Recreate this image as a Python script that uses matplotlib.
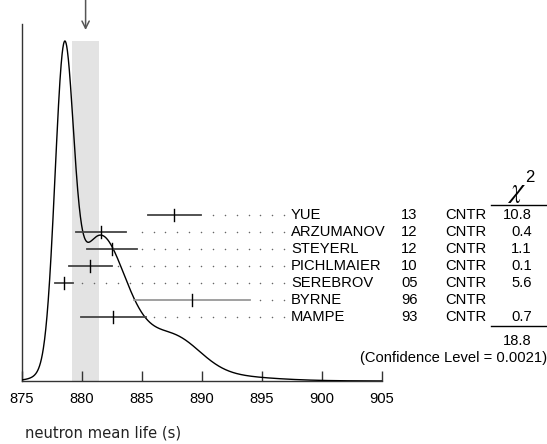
import numpy as np
import matplotlib.pyplot as plt

# measurements, top row first
authors = ['YUE', 'ARZUMANOV', 'STEYERL', 'PICHLMAIER', 'SEREBROV', 'BYRNE', 'MAMPE']
years = ['13', '12', '12', '10', '05', '96', '93']
tecn = ['CNTR', 'CNTR', 'CNTR', 'CNTR', 'CNTR', 'CNTR', 'CNTR']
values = [887.7, 881.6, 882.5, 880.7, 878.5, 889.2, 882.6]
errors = [2.2, 2.06, 2.05, 1.77, 0.76, 4.84, 2.7]
chi2 = ['10.8', '0.4', '1.1', '0.1', '5.6', '', '0.7']
used = [True, True, True, True, True, False, True]
chi2_total = '18.8'
conf_level = '0.0021'
avg = 880.3
avg_err = 1.1

W, H = 547, 444
fig = plt.figure(figsize=(W / 100, H / 100), dpi=100)
ax = fig.add_axes([22 / W, 63 / H, 360 / W, 357 / H])

def fx(px):
    # figure pixel column -> axes fraction
    return (px - 22) / 360.0

def fy(py):
    # figure pixel row (from top) -> axes fraction
    return (381 - py) / 357.0

# ideogram: one gaussian per measurement, area ~ 1/sigma
x = np.linspace(875, 905, 1500)
curve = np.zeros_like(x)
for v, e in zip(values, errors):
    curve += np.exp(-0.5 * ((x - v) / e) ** 2) / e ** 2
peak = curve.max()

ax.fill_between([avg - avg_err, avg + avg_err], 0, peak, color='#e3e3e3', lw=0, zorder=0)
ax.plot(x, curve, color='black', lw=1.0, zorder=3)

ax.set_xlim(875, 905)
ax.set_ylim(0, peak * 357 / 340)

ax.annotate('', xy=(avg, fy(30)), xycoords=('data', 'axes fraction'),
            xytext=(avg, 1.0), textcoords=('data', 'figure fraction'),
            arrowprops=dict(arrowstyle='->', color='#555555', lw=1.1,
                            shrinkA=0, shrinkB=0, mutation_scale=13))

trans = ax.get_xaxis_transform()
txt = dict(transform=ax.transAxes, fontsize=10.6, family='Liberation Sans',
           va='center', clip_on=False)
dot_start = 896.85
dot_step = 0.99
for i in range(len(authors)):
    ry = fy(215 + 17 * i)
    v, e = values[i], errors[i]
    col = '#444444' if used[i] else '#999999'
    ax.plot([v - e, v + e], [ry, ry], color=col, lw=1.3, transform=trans, zorder=4)
    ax.plot([v, v], [ry - 0.017, ry + 0.017], color='black', lw=1.0, transform=trans, zorder=4)
    dots = [dot_start - k * dot_step for k in range(40)]
    dots = [d for d in dots if d > v + e + 0.35]
    ax.plot(dots, [ry] * len(dots), ls='none', marker='o', ms=1.1, mew=0,
            color='#666666', transform=trans, clip_on=False)
    ax.text(fx(291), ry, authors[i], ha='left', **txt)
    ax.text(fx(401), ry, years[i], ha='left', **txt)
    ax.text(fx(445), ry, tecn[i], ha='left', **txt)
    ax.text(fx(532), ry, chi2[i], ha='right', **txt)

ax.text(fx(516), fy(197), r'$\chi$', ha='center', va='baseline', fontsize=20,
        math_fontfamily='stix', transform=ax.transAxes, clip_on=False)
ax.text(fx(525), fy(178), '2', ha='left', va='center', fontsize=12,
        family='Liberation Sans', transform=ax.transAxes, clip_on=False)
ax.plot([fx(491), fx(547)], [fy(205), fy(205)], color='black', lw=1.0,
        transform=ax.transAxes, clip_on=False)
ax.plot([fx(491), fx(547)], [fy(326), fy(326)], color='black', lw=1.0,
        transform=ax.transAxes, clip_on=False)
ax.text(fx(532), fy(341), chi2_total, ha='right', **txt)
ax.text(fx(547), fy(358), '(Confidence Level = ' + conf_level + ')', ha='right', **txt)

for s in ['top', 'right']:
    ax.spines[s].set_visible(False)
for s in ['left', 'bottom']:
    ax.spines[s].set_color('#333333')
    ax.spines[s].set_linewidth(1.0)
ax.set_yticks([])
ax.set_xticks(range(875, 906, 5))
ax.tick_params(axis='x', direction='in', length=7.5, width=1.0, color='#333333',
               pad=8, labelsize=10.6)
for lab in ax.get_xticklabels():
    lab.set_family('Liberation Sans')

fig.text(25 / W, 1 - 433 / H, 'neutron mean life (s)', ha='left', va='center',
         fontsize=10.6, family='DejaVu Sans', color='#222222')

fig.savefig('out.png', dpi=100)
